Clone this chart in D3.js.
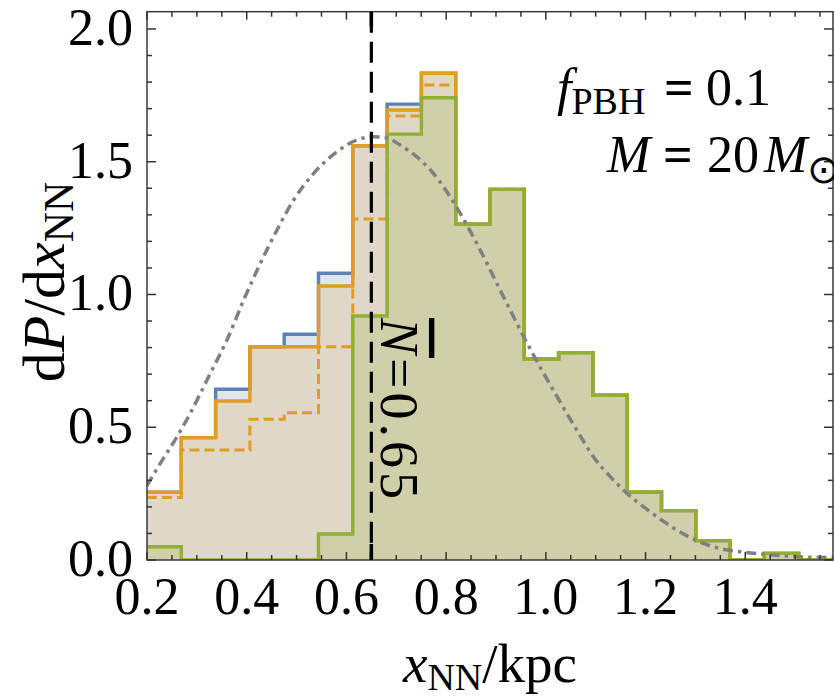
<!DOCTYPE html>
<html>
<head>
<meta charset="utf-8">
<script src="https://cdn.jsdelivr.net/npm/d3@7"></script>
<style>
  html, body { margin: 0; padding: 0; background: #fff; }
  svg { display: block; }
  text { font-family: 'Liberation Serif', 'Times New Roman', serif; fill: #000; }
</style>
</head>
<body>
<svg id="chart" width="834" height="698"></svg>
<script>
// ---------- DATA ----------
const binEdges = [0.2, 0.2688, 0.3376, 0.4064, 0.4752, 0.5440, 0.6128, 0.6816, 0.7504, 0.8192,
                  0.8880, 0.9568, 1.0256, 1.0944, 1.1632, 1.2320, 1.3008, 1.3696, 1.4384, 1.5072, 1.5760];
const blueValues   = [0.255, 0.461, 0.643, 0.803, 0.850, 1.080, 1.560, 1.717, 1.833, 1.265,
                      1.396, 0.757, 0.781, 0.621, 0.255, 0.186, 0.073, 0.0, 0.025, 0.0];
const orangeValues = [0.255, 0.461, 0.599, 0.803, 0.803, 1.032, 1.560, 1.695, 1.833, 1.265,
                      1.396, 0.757, 0.781, 0.621, 0.255, 0.186, 0.073, 0.0, 0.025, 0.0];
const orangeDashedValues = [0.235, 0.414, 0.414, 0.530, 0.555, 0.803, 1.284, 1.672, 1.789, 1.265,
                      1.396, 0.757, 0.781, 0.621, 0.255, 0.186, 0.073, 0.0, 0.025, 0.0];
const greenValues  = [0.050, 0.0, 0.0, 0.0, 0.0, 0.098, 0.919, 1.604, 1.741, 1.265,
                      1.396, 0.757, 0.781, 0.621, 0.255, 0.186, 0.073, 0.0, 0.025, 0.0];
const curveX = [0.2, 0.2267, 0.2602, 0.2869, 0.3270, 0.3605, 0.3939, 0.4273, 0.4608, 0.4942,
                0.5343, 0.5812, 0.6213, 0.6547, 0.6800, 0.7075, 0.7744, 0.8245, 0.8681, 0.9149,
                0.9700, 1.0285, 1.0619, 1.0953, 1.1288, 1.1622, 1.1989, 1.2290, 1.2625, 1.3026,
                1.3427, 1.3895, 1.4430, 1.5100, 1.5760];
const curveY = [0.280, 0.364, 0.464, 0.553, 0.703, 0.829, 0.979, 1.117, 1.243, 1.356,
                1.456, 1.538, 1.582, 1.594, 1.590, 1.563, 1.456, 1.318, 1.168, 0.992,
                0.790, 0.596, 0.490, 0.389, 0.315, 0.252, 0.196, 0.155, 0.113, 0.073,
                0.046, 0.031, 0.021, 0.012, 0.009];
const meanN = 0.65;
const xTickLabels = [0.2, 0.4, 0.6, 0.8, 1.0, 1.2, 1.4];
const yTickLabels = [0.0, 0.5, 1.0, 1.5, 2.0];
const xDomain = [0.2, 1.576];
const yDomain = [0, 2.065];

// ---------- LAYOUT ----------
const svg = d3.select('#chart');
const L = 147, R = 833, T = 11.7, B = 560;
const x = d3.scaleLinear().domain(xDomain).range([L, R]);
const y = d3.scaleLinear().domain(yDomain).range([B, T]);

const colors = {
  blue: '#5e81b5', orange: '#e19c24', green: '#8fb032', gray: '#808080'
};

svg.append('defs').append('clipPath').attr('id', 'plotclip')
  .append('rect').attr('x', L).attr('y', T).attr('width', R - L).attr('height', B - T);

const plot = svg.append('g').attr('clip-path', 'url(#plotclip)');

function stepData(vals) {
  const pts = vals.map((v, i) => ({ x: binEdges[i], y: v }));
  pts.push({ x: binEdges[binEdges.length - 1], y: vals[vals.length - 1] });
  return pts;
}
const area = d3.area().curve(d3.curveStepAfter).x(d => x(d.x)).y0(y(0)).y1(d => y(d.y));
const line = d3.line().curve(d3.curveStepAfter).x(d => x(d.x)).y(d => y(d.y));

function hist(vals, color, fill, dash) {
  const d = stepData(vals);
  if (fill) {
    plot.append('path').attr('d', area(d)).attr('fill', color).attr('fill-opacity', 0.2).attr('stroke', 'none');
  }
  const p = plot.append('path').attr('d', line(d)).attr('fill', 'none')
    .attr('stroke', color).attr('stroke-width', 3.4).attr('stroke-linejoin', 'miter');
  if (dash) p.attr('stroke-dasharray', dash).attr('stroke-width', 3);
}

hist(blueValues, colors.blue, true, null);
hist(orangeValues, colors.orange, true, null);
hist(orangeDashedValues, colors.orange, false, '10 5');
hist(greenValues, colors.green, true, null);

// gray dot-dashed curve
const curvePts = curveX.map((cx, i) => ({ x: cx, y: curveY[i] }));
plot.append('path')
  .attr('d', d3.line().curve(d3.curveMonotoneX).x(d => x(d.x)).y(d => y(d.y))(curvePts))
  .attr('fill', 'none').attr('stroke', colors.gray).attr('stroke-width', 3.5)
  .attr('stroke-dasharray', '10 5 3.5 5');

// vertical dashed mean line
plot.append('line')
  .attr('x1', x(meanN)).attr('x2', x(meanN)).attr('y1', T).attr('y2', B)
  .attr('stroke', '#000').attr('stroke-width', 3.2).attr('stroke-dasharray', '21 9');

// ---------- FRAME & TICKS ----------
const frame = svg.append('g');
frame.append('rect').attr('x', L).attr('y', T).attr('width', R - L).attr('height', B - T)
  .attr('fill', 'none').attr('stroke', '#3a3a3a').attr('stroke-width', 1.5);

const xMinor = d3.range(0, 28).map(i => 0.2 + i * 0.05).filter(v => v <= xDomain[1] + 1e-9);
const xMajor = d3.range(0, 7).map(i => 0.2 + i * 0.2);
const yMinor = d3.range(0, 21).map(i => i * 0.1);
const yMajor = d3.range(0, 5).map(i => i * 0.5);

const tickColor = '#333';
xMinor.forEach(v => {
  const isMajor = xMajor.some(m => Math.abs(m - v) < 1e-6);
  const len = isMajor ? 8 : 5;
  frame.append('line').attr('x1', x(v)).attr('x2', x(v)).attr('y1', B).attr('y2', B - len)
    .attr('stroke', tickColor).attr('stroke-width', 1.5);
  frame.append('line').attr('x1', x(v)).attr('x2', x(v)).attr('y1', T).attr('y2', T + len)
    .attr('stroke', tickColor).attr('stroke-width', 1.5);
});
yMinor.forEach(v => {
  const isMajor = yMajor.some(m => Math.abs(m - v) < 1e-6);
  const len = isMajor ? 9 : 5;
  frame.append('line').attr('x1', L).attr('x2', L + len).attr('y1', y(v)).attr('y2', y(v))
    .attr('stroke', tickColor).attr('stroke-width', 1.5);
  frame.append('line').attr('x1', R).attr('x2', R - len).attr('y1', y(v)).attr('y2', y(v))
    .attr('stroke', tickColor).attr('stroke-width', 1.5);
});
// special thick tick at mean
[[B, B - 16], [T, T + 15]].forEach(([a, b]) => {
  frame.append('line').attr('x1', x(meanN)).attr('x2', x(meanN)).attr('y1', a).attr('y2', b)
    .attr('stroke', '#000').attr('stroke-width', 3.5);
});

// tick labels
xTickLabels.forEach(v => {
  svg.append('text').attr('x', x(v)).attr('y', 614).attr('text-anchor', 'middle')
    .attr('font-size', 52).text(v.toFixed(1));
});
yTickLabels.forEach(v => {
  svg.append('text').attr('x', 133).attr('y', y(v) + 16).attr('text-anchor', 'end')
    .attr('font-size', 52).text(v.toFixed(1));
});

// axis labels
const xl = svg.append('text').attr('x', 490).attr('y', 682).attr('text-anchor', 'middle').attr('font-size', 55);
xl.append('tspan').attr('font-style', 'italic').text('x');
xl.append('tspan').attr('font-size', 38).attr('dy', 8).text('NN');
xl.append('tspan').attr('dy', -8).text('/kpc');

const yl = svg.append('text').attr('transform', 'translate(64,282) rotate(-90)')
  .attr('text-anchor', 'middle').attr('font-size', 60);
yl.append('tspan').text('d');
yl.append('tspan').attr('font-style', 'italic').text('P');
yl.append('tspan').text('/d');
yl.append('tspan').attr('font-style', 'italic').text('x');
yl.append('tspan').attr('font-size', 42).attr('dy', 9).text('NN');

// annotations
const a1 = svg.append('text').attr('x', 557).attr('y', 105).attr('font-size', 52);
a1.append('tspan').attr('font-style', 'italic').text('f');
a1.append('tspan').attr('font-size', 38).attr('dy', 9).text('PBH');
a1.append('tspan').attr('dy', -9).attr('x', 664).attr('font-weight', 'bold').text('=');
a1.append('tspan').attr('x', 706).text('0.1');

const a2 = svg.append('text').attr('x', 607).attr('y', 172).attr('font-size', 52);
a2.append('tspan').attr('font-style', 'italic').text('M');
a2.append('tspan').attr('x', 663).attr('font-weight', 'bold').text('=');
a2.append('tspan').attr('x', 707).text('20');
a2.append('tspan').attr('x', 764).attr('font-style', 'italic').text('M');
a2.append('tspan').attr('font-size', 40).attr('dy', 11).text('\u2299');

// rotated N-bar label
const nl = svg.append('text').attr('transform', `translate(${x(meanN) + 10},318) rotate(90)`)
  .attr('font-size', 54).attr('letter-spacing', 4);
nl.append('tspan').attr('font-style', 'italic').style('text-decoration', 'overline').text('N');
nl.append('tspan').text('=0.65');
</script>
</body>
</html>
